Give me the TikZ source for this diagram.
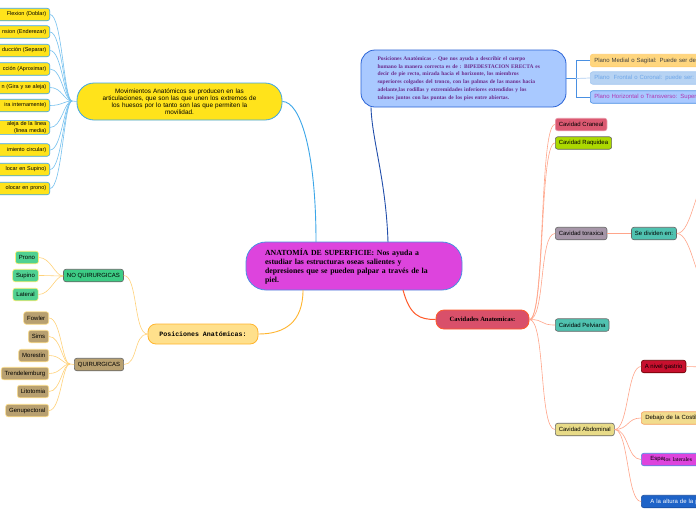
\documentclass[tikz,border=0pt]{standalone}
\usepackage{fontspec}
\setmainfont{Liberation Serif}
\setsansfont{Liberation Sans}
\setmonofont{Liberation Mono}

\definecolor{movfill}{HTML}{FFE31B}
\definecolor{movline}{HTML}{3CA6E8}
\definecolor{magent}{HTML}{DD44DD}
\definecolor{cenline}{HTML}{4A90E2}
\definecolor{posfill}{HTML}{FFE08C}
\definecolor{posline}{HTML}{FFB52E}
\definecolor{poslink}{HTML}{FFD27A}
\definecolor{nqfill}{HTML}{3DCC85}
\definecolor{qfill}{HTML}{B8A070}
\definecolor{bluefill}{HTML}{A9C9FF}
\definecolor{blueline}{HTML}{2A63D6}
\definecolor{bluetext}{HTML}{6B2B8C}
\definecolor{cavfill}{HTML}{D9506A}
\definecolor{cavline}{HTML}{FF5A2A}
\definecolor{cavlink}{HTML}{FFA58A}

\tikzset{
  box/.style={draw=gray!80!black, rounded corners=2.5pt, line width=0.6pt,
    font=\sffamily\fontsize{6}{7}\selectfont, inner xsep=3.5pt, inner ysep=1pt, minimum height=12.5pt},
  movleaf/.style={box, fill=movfill, draw=movline, anchor=east, text width=74pt, align=right,
    font=\sffamily\fontsize{5.5}{6.5}\selectfont},
  nqleaf/.style={box, fill=nqfill!90!white, draw=movfill!60!white},
  qleaf/.style={box, fill=qfill, draw=posfill, anchor=east},
  cavleaf/.style={box, anchor=west},
  plano/.style={box, anchor=west, minimum width=150pt, text width=142pt, align=left},
  movlink/.style={draw=movline!70!white, line width=0.6pt},
  plink/.style={draw=poslink, line width=0.6pt},
  clink/.style={draw=cavlink, line width=0.6pt},
}

\begin{document}
\begin{tikzpicture}[x=1pt,y=-1pt]
  \useasboundingbox (0,0) rectangle (696,520);
  \fill[white] (0,0) rectangle (696,520);
  \clip (0,0) rectangle (696,520);

  % main topic
  \node[draw=cenline, fill=magent, line width=0.8pt, rounded corners=20pt,
        minimum width=216pt, minimum height=48pt, text width=178pt, align=left,
        font=\bfseries\fontsize{7.8}{9}\selectfont] (anat) at (354,266)
    {ANATOMÍA DE SUPERFICIE: Nos ayuda a\\estudiar las estructuras oseas salientes y\\depresiones que se pueden palpar a través de la\\piel.};

  % movimientos
  \node[draw=movline, fill=movfill, line width=0.8pt, rounded corners=17pt,
        minimum width=205pt, minimum height=37pt, text width=190pt, align=center,
        font=\sffamily\fontsize{6.4}{7}\selectfont] (mov) at (179.5,101.5)
    {Movimientos Anatómicos se producen en las\\articulaciones, que son las que unen los extremos de\\los huesos por lo tanto son las que permiten la\\movilidad.};
  \draw[draw=movline, line width=0.9pt] (316,242)
    .. controls (316,150) and (300,101.5) .. (mov.east);
  \coordinate (movhub) at (72,101);
  \draw[movlink] (movhub) -- (mov.west);
  \foreach \y/\txt [count=\i] in {14.5/Flexion (Doblar), 32/nsion (Enderezar), 50.5/ducción (Separar),
      69/cción (Aproximar), 87.5/n (Gira y se aleja), 105.5/ira internamente),
      127.5/{aleja de la linea\\(linea media)\hspace{5pt}}, 150/imiento circular), 169.5/locar en Supino),
      188.5/olocar en prono)}{
    \node[movleaf] (mv\i) at (50,\y) {\txt};
    \draw[movlink] (mv\i.east) .. controls +(12,0) and +(-8,0) .. (movhub);
  }

  % posiciones anatomicas
  \node[draw=posline, fill=posfill, line width=0.8pt, rounded corners=8pt,
        minimum width=110pt, minimum height=20pt,
        font=\ttfamily\bfseries\fontsize{6.6}{7}\selectfont] (pos) at (203,334) {Posiciones Anatómicas:};
  \draw[draw=posline, line width=0.9pt] (303,290) .. controls (303,322) and (285,334) .. (pos.east);

  \node[box, fill=nqfill, minimum width=57pt] (noq) at (93.5,275.5) {NO QUIRURGICAS};
  \node[box, fill=qfill, minimum width=46pt] (quir) at (99,364.5) {QUIRURGICAS};
  \draw[plink] (pos.west) .. controls +(-14,0) and +(14,0) .. (noq.east);
  \draw[plink] (pos.west) .. controls +(-14,0) and +(14,0) .. (quir.east);

  \coordinate (nqhub) at (63,276);
  \draw[plink] (nqhub) -- (noq.west);
  \foreach \x/\y/\txt [count=\i] in {27/257.5/Prono, 25.5/275.5/Supino, 25.5/294.5/Lateral}{
    \node[nqleaf] (nq\i) at (\x,\y) {\txt};
    \draw[plink] (nq\i.east) .. controls +(12,0) and +(-8,0) .. (nqhub);
  }

  \coordinate (qhub) at (70,364);
  \draw[plink] (qhub) -- (quir.west);
  \foreach \y/\txt [count=\i] in {318/Fowler, 336.5/Sims, 355.5/Morestin, 373.5/Trendelemburg,
      391.5/Litotomia, 410.5/Genupectoral}{
    \node[qleaf] (q\i) at (49,\y) {\txt};
    \draw[plink] (q\i.east) .. controls +(12,0) and +(-8,0) .. (qhub);
  }

  % posiciones (descripcion)
  \node[draw=blueline, fill=bluefill, line width=0.8pt, rounded corners=14pt,
        minimum width=205pt, minimum height=57pt, text width=172pt, align=left,
        text=bluetext, font=\bfseries\fontsize{5.5}{7.8}\selectfont] (desc) at (463.5,78.5)
    {Posiciones Anatómicas .- Que nos ayuda a describir el cuerpo\\humano la manera correcta es de : BIPEDESTACION ERECTA es\\decir de pie recto, mirada hacia el horizonte, los miembros\\superiores colgados del tronco, con las palmas de las manos hacia\\adelante,las rodillas y extremidades inferiores extendidos y los\\talones juntos con las puntas de los pies entre abiertas.};
  \draw[draw=blueline!80!black, line width=0.9pt] (388,242) .. controls (386,180) and (372,140) .. (desc.south west -| 371,0);

  \node[plano, fill=posfill!90!orange, draw=posfill!80!orange, text=black!75] (pl1) at (590,60.5) {Plano Medial o Sagital: Puede ser de};
  \node[plano, fill=cenline!40!white, draw=cenline!50!white, text=cenline!80!white] (pl2) at (590,78) {Plano\ \ Frontal o Coronal: puede ser:};
  \node[plano, fill=bluefill, draw=cenline, text=magent!80!black] (pl3) at (590,97) {Plano Horizontal o Transverso: Superior};
  \coordinate (brk) at (576,78.5);
  \draw[draw=cenline, line width=0.7pt] (desc.east) -- (brk);
  \draw[draw=cenline, line width=0.7pt] (brk) |- (pl1.west);
  \draw[draw=cenline!45!white, line width=0.7pt] (brk) -- (pl2.west);
  \draw[draw=cenline, line width=0.7pt] (brk) |- (pl3.west);

  % cavidades anatomicas
  \node[draw=cavline, fill=cavfill, line width=0.8pt, rounded corners=8pt,
        minimum width=93pt, minimum height=19pt,
        font=\bfseries\fontsize{6.5}{7}\selectfont] (cav) at (482.5,319.5) {Cavidades Anatomicas:};
  \draw[draw=cavline, line width=1pt] (403,290) .. controls (410,316) and (420,319.5) .. (cav.west);

  \node[cavleaf, fill=cavfill!95!white, draw=cavfill!60!white] (cran) at (555,124.5) {Cavidad Craneal};
  \node[cavleaf, fill=lime!70!olive] (raq) at (555,143) {Cavidad Raquidea};
  \node[cavleaf, fill={rgb,255:red,166;green,150;blue,168}] (tor) at (555,233.5) {Cavidad toraxica};
  \node[cavleaf, fill={rgb,255:red,80;green,194;blue,176}] (pelv) at (555,325) {Cavidad Pelviana};
  \node[cavleaf, fill={rgb,255:red,232;green,219;blue,136}] (abd) at (555,429.5) {Cavidad Abdominal};
  \foreach \n in {cran,raq,tor,pelv,abd}{
    \draw[clink] (cav.east) .. controls +(16,0) and +(-16,0) .. (\n.west);
  }

  \node[box, fill={rgb,255:red,80;green,194;blue,176}] (sed) at (654,233.5) {Se dividen en:};
  \draw[clink] (tor.east) -- (sed.west);
  \coordinate (sedup) at (712,175);
  \coordinate (seddn) at (712,292);
  \draw[clink] (sed.east) .. controls +(16,0) and +(-16,0) .. (sedup);
  \draw[clink] (sed.east) .. controls +(16,0) and +(-16,0) .. (seddn);

  \node[cavleaf, fill={rgb,255:red,200;green,16;blue,46}, draw=red!40!black] (gast) at (641,366.5) {A nivel gastrio};
  \node[cavleaf, fill={rgb,255:red,242;green,220;blue,142}, draw={rgb,255:red,245;green,160;blue,96}, minimum width=100pt, text width=92pt, align=left] (costi) at (641,418) {Debajo de la Costilla};
  \node[cavleaf, fill=magent, draw=cenline, minimum width=100pt, text width=92pt, align=left] (espa) at (641,459.5)
    {\hspace*{5pt}\raisebox{1pt}{Espa}{\rmfamily\fontsize{5.8}{6}\selectfont los laterales}};
  \node[cavleaf, fill={rgb,255:red,30;green,99;blue,200}, draw={rgb,255:red,26;green,79;blue,160}, text=white, minimum width=100pt, text width=92pt, align=left] (alt) at (641,501.5) {\hspace*{5pt}A la altura de la p};
  \foreach \n in {gast,costi,espa,alt}{
    \draw[clink] (abd.east) .. controls +(14,0) and +(-14,0) .. (\n.west);
  }
  \coordinate (gastend) at (705,367);
  \draw[clink] (gast.east) -- (gastend);
\end{tikzpicture}
\end{document}
